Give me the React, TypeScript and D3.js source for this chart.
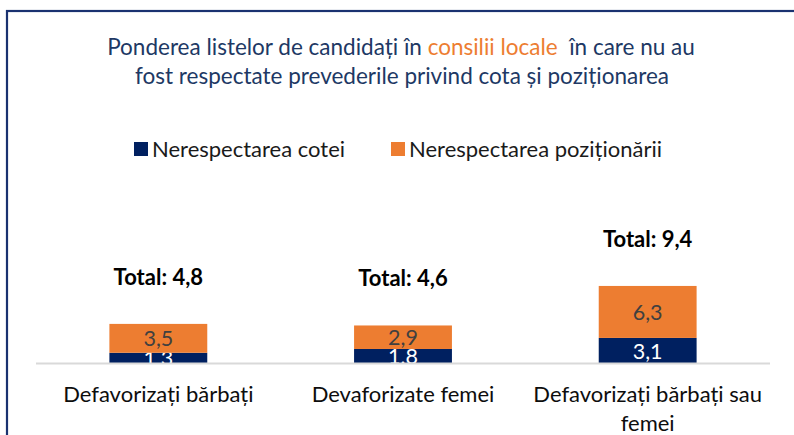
import React, { useEffect, useRef } from "react";
import * as d3 from "d3";

const categories = [
  "Defavorizați bărbați",
  "Devaforizate femei",
  "Defavorizați bărbați sau femei",
];
const seriesNames = ["Nerespectarea cotei", "Nerespectarea poziționării"];
const cotaValues = [1.3, 1.76, 3.1];
const pozitionareValues = [3.5, 2.85, 6.3];
const titleLine1 = ["Ponderea listelor de candidați în ", "consilii locale", "  în care nu au"];
const titleLine2 = "fost respectate prevederile privind cota și poziționarea";

const W = 794;
const H = 435;
const FONT = "Lato, 'Open Sans', sans-serif";
const NAVY = "#002060";
const ORANGE = "#ED7D31";

const fmt = (v: number) => v.toFixed(1).replace(".", ",");

export default function App() {
  const ref = useRef<SVGSVGElement | null>(null);

  useEffect(() => {
    const svg = d3.select(ref.current);
    svg.selectAll("*").remove();

    // frame
    svg
      .append("rect")
      .attr("x", 7)
      .attr("y", 11)
      .attr("width", W + 40)
      .attr("height", H + 40)
      .attr("fill", "none")
      .attr("stroke", "#1a3270")
      .attr("stroke-width", 2.2);

    // title
    const t1 = svg
      .append("text")
      .attr("x", 401)
      .attr("y", 55)
      .attr("text-anchor", "middle")
      .attr("font-family", FONT)
      .attr("font-size", 22.5)
      .attr("fill", "#203864")
      .style("white-space", "pre");
    titleLine1.forEach((s, i) => {
      t1.append("tspan").attr("fill", i === 1 ? ORANGE : "#203864").text(s);
    });
    svg
      .append("text")
      .attr("x", 402)
      .attr("y", 84)
      .attr("text-anchor", "middle")
      .attr("font-family", FONT)
      .attr("font-size", 22.5)
      .attr("fill", "#203864")
      .text(titleLine2);

    // legend
    const legendX = [134, 391];
    const colors = [NAVY, ORANGE];
    seriesNames.forEach((name, i) => {
      svg
        .append("rect")
        .attr("x", legendX[i])
        .attr("y", 142)
        .attr("width", 14)
        .attr("height", 14)
        .attr("fill", colors[i]);
      svg
        .append("text")
        .attr("x", legendX[i] + 18)
        .attr("y", 156.5)
        .attr("font-family", FONT)
        .attr("font-size", 22)
        .attr("fill", "#1a1a1a")
        .text(name);
    });

    // scales
    const x = d3
      .scaleBand<string>()
      .domain(categories)
      .range([36, 770])
      .paddingInner(0.6)
      .paddingOuter(0.3);
    const y = d3.scaleLinear().domain([0, 10]).range([363.5, 281]);

    const rows = categories.map((c, i) => ({
      cat: c,
      cota: cotaValues[i],
      poz: pozitionareValues[i],
    }));
    const stack = d3.stack<any>().keys(["cota", "poz"])(rows);

    stack.forEach((layer, li) => {
      const g = svg.append("g");
      g.selectAll("rect")
        .data(layer)
        .enter()
        .append("rect")
        .attr("x", (d: any) => x(d.data.cat)!)
        .attr("width", x.bandwidth())
        .attr("y", (d: any) => y(d[1]))
        .attr("height", (d: any) => y(d[0]) - y(d[1]))
        .attr("fill", colors[li]);
      g.selectAll("text")
        .data(layer)
        .enter()
        .append("text")
        .attr("x", (d: any) => x(d.data.cat)! + x.bandwidth() / 2)
        .attr("y", (d: any) => (y(d[0]) + y(d[1])) / 2 + 8)
        .attr("text-anchor", "middle")
        .attr("font-family", FONT)
        .attr("font-size", 21.5)
        .attr("fill", li === 0 ? "#ffffff" : "#404040")
        .text((d: any) => fmt(d[1] - d[0]));
    });

    // totals
    svg
      .append("g")
      .selectAll("text")
      .data(rows)
      .enter()
      .append("text")
      .attr("x", (d) => x(d.cat)! + x.bandwidth() / 2)
      .attr("y", (d) => y(d.cota + d.poz) - 39)
      .attr("text-anchor", "middle")
      .attr("font-family", FONT)
      .attr("font-weight", "bold")
      .attr("font-size", 22)
      .attr("fill", "#000")
      .text((d) => "Total: " + fmt(d.cota + d.poz));

    // axis line
    svg
      .append("line")
      .attr("x1", 36)
      .attr("x2", 770)
      .attr("y1", 363.5)
      .attr("y2", 363.5)
      .attr("stroke", "#d9d9d9")
      .attr("stroke-width", 2);

    // category labels with wrapping
    const maxW = x.step() - 6;
    categories.forEach((c) => {
      const cx = x(c)! + x.bandwidth() / 2;
      const t = svg
        .append("text")
        .attr("x", cx)
        .attr("y", 402)
        .attr("text-anchor", "middle")
        .attr("font-family", FONT)
        .attr("font-size", 22)
        .attr("fill", "#0d0d0d");
      const words = c.split(" ");
      let line: string[] = [];
      let tspan = t.append("tspan").attr("x", cx).attr("dy", 0);
      words.forEach((w) => {
        line.push(w);
        tspan.text(line.join(" "));
        if ((tspan.node() as SVGTextContentElement).getComputedTextLength() > maxW && line.length > 1) {
          line.pop();
          tspan.text(line.join(" "));
          line = [w];
          tspan = t.append("tspan").attr("x", cx).attr("dy", 29).text(w);
        }
      });
    });
  }, []);

  return (
    <div style={{ position: "absolute", left: 0, top: 0 }}>
      <svg ref={ref} width={W} height={H} style={{ display: "block", background: "#fff" }} />
    </div>
  );
}
